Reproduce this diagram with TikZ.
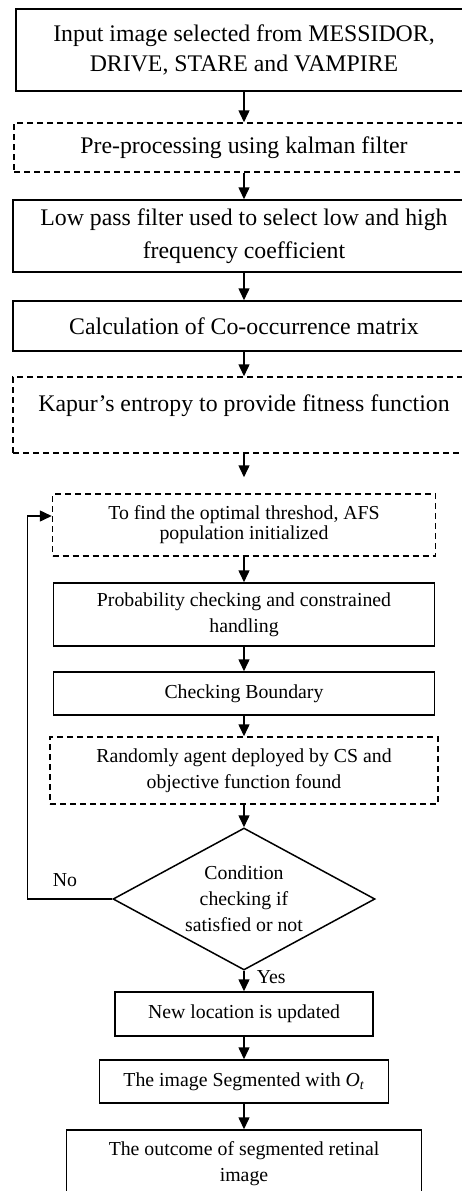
\documentclass[tikz,border=0pt]{standalone}
\usepackage{fontspec}
\setmainfont{Liberation Serif}
\usetikzlibrary{shapes.geometric, arrows.meta}
\tikzset{
    upper box/.style={draw, line width=1.5pt, align=center, inner sep=0pt,
        font=\fontsize{23.8}{28}\selectfont},
    lower box/.style={draw, line width=1.5pt, align=center, inner sep=0pt,
        font=\fontsize{19.8}{26}\selectfont},
    dashed box/.style={dash pattern=on 6pt off 4pt},
    flow arrow/.style={line width=1.5pt, -{Triangle[length=12pt,width=11pt]}},
    answer/.style={inner sep=0pt, font=\fontsize{19.8}{24}\selectfont}
}
\begin{document}
\begin{tikzpicture}[x=1pt, y=-1pt]
\useasboundingbox (0,0) rectangle (462,1191);

% pre-processing and features
\node[upper box, minimum width=456pt, minimum height=82pt] (input) at (244,50)
    {Input image selected from MESSIDOR,\\[2pt]DRIVE, STARE and VAMPIRE};
\node[upper box, dashed box, minimum width=460pt, minimum height=49pt] (kalman) at (244,147.5)
    {Pre-processing using kalman filter};
\node[upper box, minimum width=462pt, minimum height=72pt] (lowpass) at (244,236)
    {Low pass filter used to select low and high\\[5pt]frequency coefficient};
\node[upper box, minimum width=462pt, minimum height=50pt] (cooc) at (244,326)
    {Calculation of Co-occurrence matrix};
\node[upper box, dashed box, minimum width=462pt, minimum height=76pt,
      text height=16pt, text depth=24pt] (kapur) at (244,415)
    {Kapur’s entropy to provide fitness function};

% optimisation loop
\node[lower box, dashed box, minimum width=383pt, minimum height=62pt] (afs) at (244,525)
    {To find the optimal threshod, AFS\\[-6pt]population initialized};
\node[lower box, minimum width=381pt, minimum height=63pt] (prob) at (244,614.5)
    {Probability checking and constrained\\handling};
\node[lower box, minimum width=381pt, minimum height=43pt] (bound) at (244,693.5)
    {Checking Boundary};
\node[lower box, dashed box, minimum width=388pt, minimum height=67pt] (cs) at (244,770.5)
    {Randomly agent deployed by CS and\\objective function found};
\node[lower box, diamond, aspect=1.85, minimum width=262pt, minimum height=142pt] (cond) at (244,899)
    {Condition\\checking if\\satisfied or not};

% result
\node[lower box, minimum width=258pt, minimum height=44pt] (update) at (244,1014)
    {New location is updated};
\node[lower box, minimum width=289pt, minimum height=43pt] (segm) at (244,1081.5)
    {The image Segmented with \textit{O}\textsubscript{\textit{t}}};
\node[lower box, minimum width=355pt, minimum height=67pt] (outcome) at (244,1163.5)
    {The outcome of segmented retinal\\image};

\draw[flow arrow] (input) -- (kalman);
\draw[flow arrow] (kalman) -- (lowpass);
\draw[flow arrow] (lowpass) -- (cooc);
\draw[flow arrow] (cooc) -- (kapur);
\draw[flow arrow, shorten >=16pt] (kapur) -- (afs);
\draw[flow arrow] (afs) -- (prob);
\draw[flow arrow] (prob) -- (bound);
\draw[flow arrow] (bound) -- (cs);
\draw[flow arrow] (cs) -- (cond);
\draw[flow arrow] (cond) -- node[answer, pos=0.3, right=12pt] (yes) {Yes} (update);
\draw[flow arrow] (update) -- (segm);
\draw[flow arrow] (segm) -- (outcome);

% back to the start of the search
\draw[flow arrow] (cond.west) -- ++(-85,0) |- ([yshift=9pt]afs.west);
\node[answer] (no) at (65,880) {No};

\end{tikzpicture}
\end{document}
